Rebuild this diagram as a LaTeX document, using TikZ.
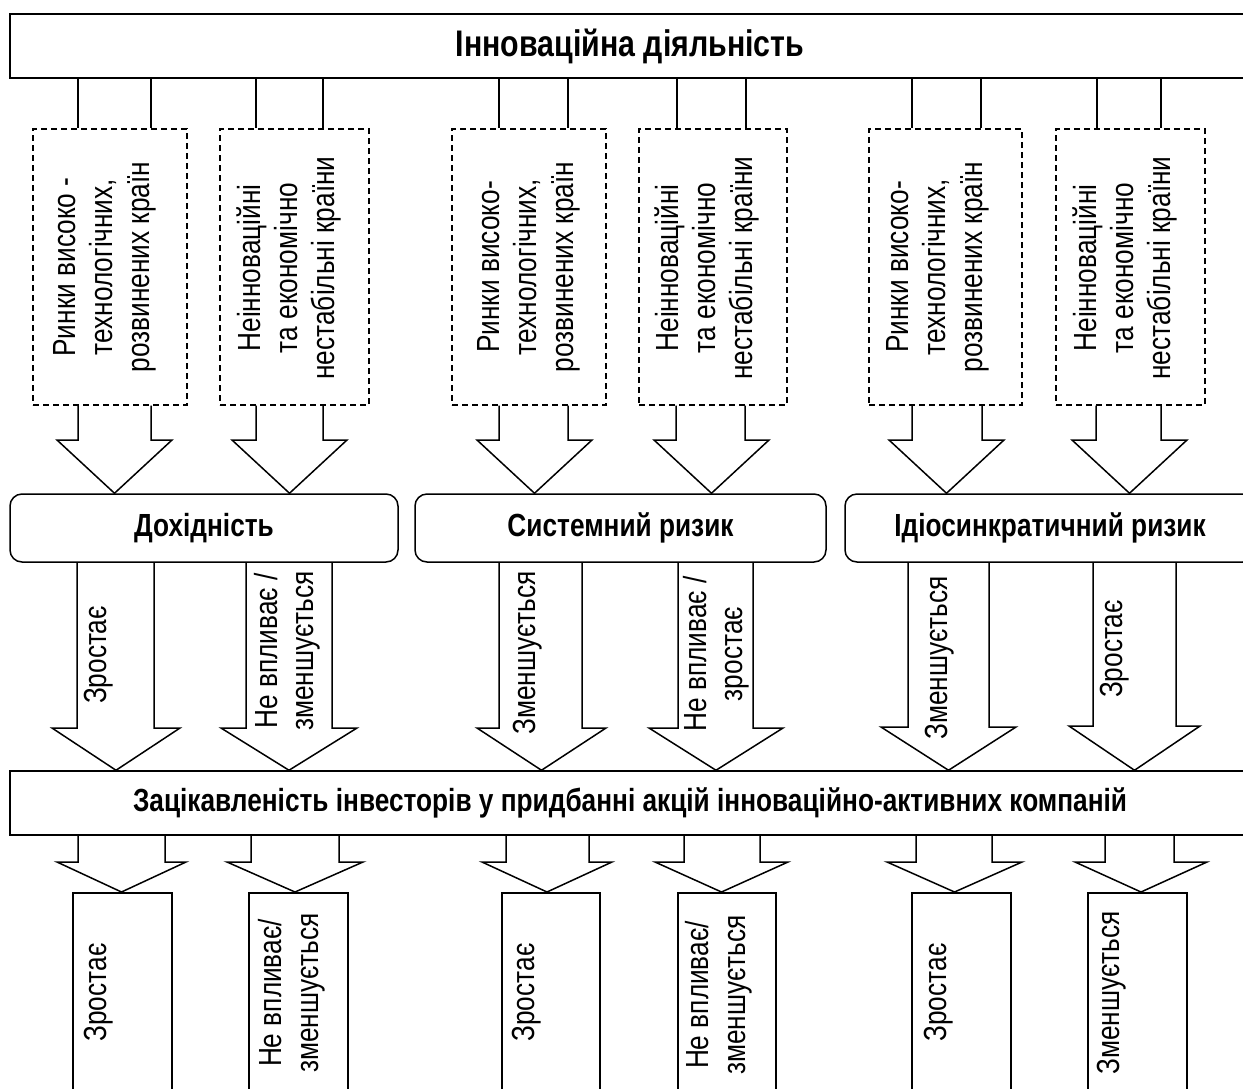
\documentclass[tikz,border=0pt]{standalone}
\usepackage{fontspec}
\setmainfont{Liberation Sans}
\newfontfamily\nar[FakeStretch=0.82]{Liberation Sans}
\usetikzlibrary{calc}
\tikzset{
  box/.style={draw, line width=1.5pt, rectangle, inner sep=0pt},
  rbox/.style={draw, line width=1.5pt, rounded corners=12pt, inner sep=0pt, font=\nar\bfseries\fontsize{32pt}{36pt}\selectfont},
  dbox/.style={draw, line width=1.3pt, dash pattern=on 6pt off 4pt, inner sep=0pt},
  blk/.style={draw, line width=1.5pt, line join=miter},
  ln/.style={draw, line width=1.5pt},
  lbl/.style={inner sep=0pt, font=\nar\fontsize{32pt}{37pt}\selectfont, align=center, rotate=90},
  lblm/.style={lbl, font=\nar\fontsize{32pt}{36pt}\selectfont},
  lblb/.style={lbl, font=\nar\fontsize{32pt}{37pt}\selectfont},
  ttl/.style={font=\nar\bfseries\fontsize{37pt}{40pt}\selectfont},
  ttlb/.style={font=\nar\bfseries\fontsize{32pt}{36pt}\selectfont},
}
\newcommand\barrow[8]{\draw[blk] (#3,0 |- #1.south) -- (#3,#7) -- (#5,#7) -- (#8,0 |- #2.north) -- (#6,#7) -- (#4,#7) -- (#4,0 |- #1.south);}
\begin{document}
\begin{tikzpicture}[x=1pt,y=-1pt]
\useasboundingbox (0,0) rectangle (1243,1088);
\clip (0,0) rectangle (1243,1088);
% top box
\node[box, ttl, minimum width=1240pt, minimum height=64pt] (top) at (630,46) {Інноваційна діяльність};
% dashed boxes
\node[dbox, minimum width=154pt, minimum height=276pt] (A) at (110,267) {};
\node[dbox, minimum width=149pt, minimum height=276pt] (B) at (294.5,267) {};
\node[dbox, minimum width=154pt, minimum height=276pt] (C) at (529,267) {};
\node[dbox, minimum width=148pt, minimum height=276pt] (D) at (713,267) {};
\node[dbox, minimum width=153pt, minimum height=276pt] (E) at (945.5,267) {};
\node[dbox, minimum width=149pt, minimum height=276pt] (F) at (1130.5,267) {};
\node[lbl] (At) at (105,267) {Ринки високо -\\технологічних,\\розвинених країн};
\node[lbl] (Bt) at (289,268) {Неінноваційні\\та економічно\\нестабільні країни};
\node[lbl] (Ct) at (528.5,267) {Ринки високо-\\технологічних,\\розвинених країн};
\node[lbl] (Dt) at (707,268) {Неінноваційні\\та економічно\\нестабільні країни};
\node[lbl] (Et) at (937.5,267) {Ринки високо-\\технологічних,\\розвинених країн};
\node[lbl] (Ft) at (1124.5,268) {Неінноваційні\\та економічно\\нестабільні країни};
% rounded boxes
\node[rbox, minimum width=388pt, minimum height=68pt] (dox) at (204,528) {Дохідність};
\node[rbox, minimum width=411pt, minimum height=68pt] (sys) at (620.5,528) {Системний ризик};
\node[rbox, minimum width=410pt, minimum height=68pt] (idio) at (1050,528) {Ідіосинкратичний ризик};
% big bottom box
\node[box, ttlb, minimum width=1240pt, minimum height=64pt] (inv) at (630,803) {Зацікавленість інвесторів у придбанні акцій інноваційно-активних компаній};
% result boxes
\node[box, anchor=north, minimum width=99pt, minimum height=230pt] (R1) at (122.5,892) {};
\node[box, anchor=north, minimum width=99pt, minimum height=230pt] (R2) at (298.5,892) {};
\node[box, anchor=north, minimum width=98pt, minimum height=230pt] (R3) at (551,892) {};
\node[box, anchor=north, minimum width=98pt, minimum height=230pt] (R4) at (727,892) {};
\node[box, anchor=north, minimum width=99pt, minimum height=230pt] (R5) at (961.5,892) {};
\node[box, anchor=north, minimum width=99pt, minimum height=230pt] (R6) at (1137.5,892) {};
\node[lblb] (R1t) at (98.5,992.5) {Зростає};
\node[lblb] (R2t) at (291.5,993) {Не впливає/\\зменшується};
\node[lblb] (R3t) at (526.5,992.5) {Зростає};
\node[lblb] (R4t) at (719,995) {Не впливає/\\зменшується};
\node[lblb] (R5t) at (938.5,992.5) {Зростає};
\node[lblb] (R6t) at (1111.5,993) {Зменшується};
% top connectors
\foreach \n/\a/\b in {A/78/151, B/256/323, C/499/568, D/677/746, E/912/981, F/1097/1161}{
  \draw[ln] (\a,0 |- top.south) -- (\a,0 |- \n.north);
  \draw[ln] (\b,0 |- top.south) -- (\b,0 |- \n.north);
}
% top block arrows
\barrow{A}{dox}{78}{151}{57}{172}{440}{114.5}
\barrow{B}{dox}{256}{323}{232}{347}{440}{289.5}
\barrow{C}{sys}{499}{568}{477}{592}{440}{534.5}
\barrow{D}{sys}{676}{745}{654}{769}{440}{711.5}
\barrow{E}{idio}{912}{982}{889}{1004}{440}{946.5}
\barrow{F}{idio}{1096}{1161}{1072}{1187}{440}{1129.5}
% middle block arrows
\barrow{dox}{inv}{77}{154}{52}{180}{728}{116}
\barrow{dox}{inv}{246}{332}{221}{357}{728}{289}
\barrow{sys}{inv}{499}{582}{477}{606}{728}{541.5}
\barrow{sys}{inv}{678}{753}{649}{783}{728}{716}
\barrow{idio}{inv}{908}{989}{881}{1016}{727}{948.5}
\barrow{idio}{inv}{1093}{1176}{1069}{1200}{726}{1134.5}
\node[lblm] (m1) at (98.5,655) {Зростає};
\node[lblm] (m2) at (287.5,651) {Не впливає /\\зменшується};
\node[lblm] (m3) at (527.5,653) {Зменшується};
\node[lblm] (m4) at (716.5,654) {Не впливає /\\зростає};
\node[lblm] (m5) at (939.5,658) {Зменшується};
\node[lblm] (m6) at (1115,649) {Зростає};
% bottom block arrows
\barrow{inv}{R1}{78}{165}{57}{186}{862}{121.5}
\barrow{inv}{R2}{251}{339}{227}{363}{862}{295}
\barrow{inv}{R3}{506}{589}{482}{612}{862}{547}
\barrow{inv}{R4}{684}{760}{655}{788}{862}{721.5}
\barrow{inv}{R5}{916}{992}{887}{1022}{862}{954.5}
\barrow{inv}{R6}{1105}{1174}{1075}{1207}{862}{1141}
\end{tikzpicture}
\end{document}
